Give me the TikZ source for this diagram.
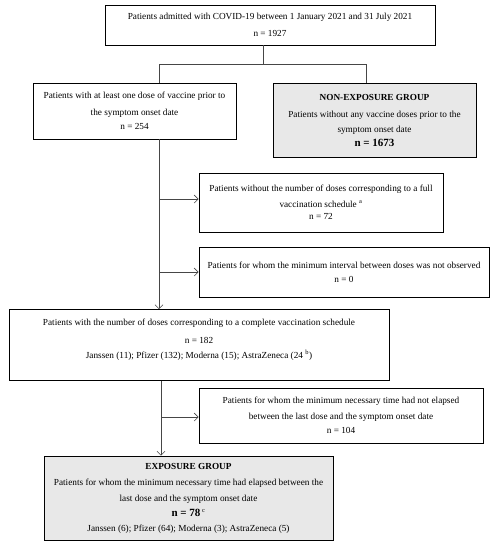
\documentclass[tikz,border=0pt]{standalone}
\usepackage{fontspec}
\setmainfont{Liberation Serif}
\usetikzlibrary{arrows.meta}
\definecolor{boxgray}{RGB}{232,232,232}
\definecolor{linegray}{RGB}{70,70,70}
\tikzset{
  box/.style={draw=black, line width=0.8pt, fill=white, inner sep=0pt, align=center,
    font=\fontsize{9.25}{15}\selectfont},
  graybox/.style={box, fill=boxgray},
  conn/.style={draw=linegray, line width=0.6pt},
  arr/.style={conn, -{Straight Barb[length=4pt,width=8pt,line width=0.6pt]}},
}
\begin{document}
\begin{tikzpicture}[x=1pt,y=-1pt]
\useasboundingbox (0,0) rectangle (496,550);
% boxes
\node[box, minimum width=330, minimum height=40] (b1) at (270,25)
  {Patients admitted with COVID-19 between 1 January 2021 and 31 July 2021\\[2pt] n = 1927};
\node[box, minimum width=203, minimum height=56] (b2) at (134.5,111)
  {Patients with at least one dose of vaccine prior to\\[2pt] the symptom onset date\\[-1pt] n = 254};
\node[graybox, minimum width=203, minimum height=74] (b3) at (374.5,120)
  {\textbf{NON-EXPOSURE GROUP}\\[2pt] Patients without any vaccine doses prior to the\\ symptom onset date\\[-1pt] {\fontsize{11}{13}\selectfont\bfseries n = 1673}};
\node[box, minimum width=244, minimum height=59] (b5) at (321,202.5)
  {Patients without the number of doses corresponding to a full\\[1pt] vaccination schedule \textsuperscript{a}\\[-3pt] n = 72};
\node[box, minimum width=290, minimum height=50] (b6) at (344,272)
  {Patients for whom the minimum interval between doses was not observed\\[-1pt] n = 0};
\node[box, minimum width=380, minimum height=71] (b4) at (199,345)
  {Patients with the number of doses corresponding to a complete vaccination schedule\\[3pt] n = 182\\ Janssen (11); Pfizer (132); Moderna (15); AstraZeneca (24 \textsuperscript{b})\\[-2pt]\mbox{}};
\node[box, minimum width=284, minimum height=55] (b7) at (341,415.5)
  {Patients for whom the minimum necessary time had not elapsed\\[1pt] between the last dose and the symptom onset date\\[-1pt] n = 104};
\node[graybox, minimum width=289, minimum height=84] (b8) at (188.5,498)
  {\textbf{EXPOSURE GROUP}\\[1pt] Patients for whom the minimum necessary time had elapsed between the\\[1pt] last dose and the symptom onset date\\ {\fontsize{11}{13}\selectfont\bfseries n = 78}\,\textsuperscript{c}\\ Janssen (6); Pfizer (64); Moderna (3); AstraZeneca (5)};
% junction coordinates
\coordinate (j1) at (263,64);
\coordinate (jl) at (159,64);
\coordinate (jr) at (366,64);
\coordinate (a5) at (159,199);
\coordinate (k) at (161,417);
% connectors
\draw[conn] (b1.south -| j1) -- (j1);
\draw[conn] (b2.north -| jl) -- (jl) -- (jr) -- (b3.north -| jr);
\draw[arr] (b2.south -| jl) -- (b4.north -| jl);
\draw[arr] (a5) -- (a5 -| b5.west);
\draw[arr] (b6.west -| jl) -- (b6.west);
\draw[arr] (b4.south -| k) -- (b8.north -| k);
\draw[arr] (k) -- (k -| b7.west);
\end{tikzpicture}
\end{document}
